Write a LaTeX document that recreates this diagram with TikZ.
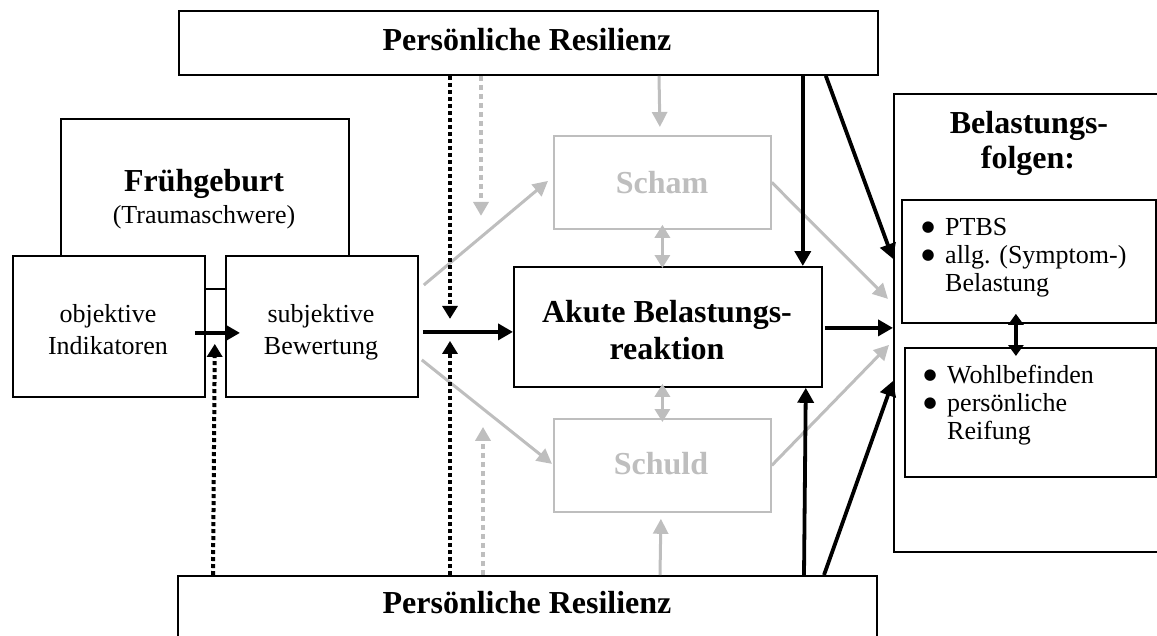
\documentclass[tikz,border=0pt]{standalone}
\usepackage{fontspec}
\setmainfont{Liberation Serif}
\newfontfamily\bulfont{DejaVu Sans}
\usetikzlibrary{arrows.meta,calc}
\definecolor{lg}{RGB}{190,190,190}
\newcommand{\bigbul}{\makebox[14pt][c]{\raisebox{4pt}[0pt][0pt]{\bulfont\fontsize{15}{15}\selectfont ●}}\hspace{10pt}}
\begin{document}
\begin{tikzpicture}[x=1pt,y=-1pt,
  box/.style={draw=black, line width=1.8pt, fill=white, inner sep=0pt, anchor=north west},
  gbox/.style={draw=lg, line width=1.8pt, fill=white, inner sep=0pt, anchor=north west},
  reg/.style={font=\fontsize{26}{32}\selectfont, inner sep=0pt, anchor=base},
  regw/.style={font=\fontsize{26}{32}\selectfont, inner sep=0pt, anchor=base west},
  bld/.style={font=\fontsize{32}{38}\selectfont\bfseries, inner sep=0pt, anchor=base},
  gbld/.style={bld, text=lg},
  blk/.style={line width=3.8pt, -{Triangle[length=15pt,width=16pt]}},
  blkdbl/.style={line width=3.8pt, {Triangle[length=11pt,width=15pt]}-{Triangle[length=11pt,width=15pt]}},
  gry/.style={draw=lg, line width=3pt, -{Triangle[length=15pt,width=15pt]}, lg},
  grydbl/.style={draw=lg, line width=3.5pt, {Triangle[length=13pt,width=15pt]}-{Triangle[length=13pt,width=15pt]}, lg},
  blkdot/.style={line width=4pt, dash pattern=on 4pt off 3pt, -{Triangle[length=13pt,width=15pt]}},
  grydot/.style={draw=lg, line width=3.5pt, dash pattern=on 5pt off 4pt, -{Triangle[length=14pt,width=15pt]}, lg}
]
\useasboundingbox (0,0) rectangle (1157,635);

% boxes
\node[box, minimum width=699pt, minimum height=64pt] (topR) at (178,10) {};
\node[box, minimum width=699pt, minimum height=85pt] (botR) at (177,575) {};
\node[box, minimum width=288pt, minimum height=170pt] (frueh) at (60,118) {};
\node[box, minimum width=192pt, minimum height=141pt] (obj) at (12,255) {};
\node[box, minimum width=192pt, minimum height=141pt] (subj) at (225,255) {};
\node[gbox, minimum width=217pt, minimum height=93pt] (scham) at (553,135) {};
\node[box, minimum width=308pt, minimum height=120pt] (akute) at (513,266) {};
\node[gbox, minimum width=217pt, minimum height=93pt] (schuld) at (553,418) {};
\node[box, minimum width=272pt, minimum height=458pt] (folgen) at (893,93) {};
\node[box, minimum width=254pt, minimum height=123pt] (f1) at (901,199) {};
\node[box, minimum width=251pt, minimum height=129pt] (f2) at (904,347) {};

% texts
\node[bld] (topT) at (527,50) {Persönliche Resilienz};
\node[bld] (botT) at (527,613) {Persönliche Resilienz};
\node[bld] (fr1) at (204,191) {Frühgeburt};
\node[reg] (fr2) at (204,223) {(Traumaschwere)};
\node[reg] (ob1) at (108,322) {objektive};
\node[reg] (ob2) at (108,354) {Indikatoren};
\node[reg] (su1) at (321,322) {subjektive};
\node[reg] (su2) at (321,354) {Bewertung};
\node[gbld] (schamT) at (662,193) {Scham};
\node[bld] (ak1) at (667,322) {Akute Belastungs-};
\node[bld] (ak2) at (667,359) {reaktion};
\node[gbld] (schuldT) at (661,474) {Schuld};
\node[bld] (fo1) at (1029,133) {Belastungs-};
\node[bld] (fo2) at (1028,168) {folgen:};
\node[regw] (t1) at (921,235) {\bigbul PTBS};
\node[regw] (t2) at (921,263) {\bigbul allg. (Symptom-)};
\node[regw] (t3) at (945,291) {Belastung};
\node[regw] (t4) at (923,383) {\bigbul Wohlbefinden};
\node[regw] (t5) at (923,411) {\bigbul persönliche};
\node[regw] (t6) at (947,439) {Reifung};

% gray connectors
\draw[gry] ($(subj.north east)+(5,30)$) -- ($(scham.west)+(-5,-1.5)$);
\draw[gry] ($(subj.east)+(3,33.5)$) -- ($(schuld.west)+(-1,-1.5)$);
\draw[gry] ($(topR.south west)+(481,0)$) -- ($(scham.north)+(-2.5,-8)$);
\draw[grydbl] ($(scham.south)+(0,-5)$) -- ($(scham.south |- akute.north)+(0,2)$);
\draw[grydbl] ($(schuld.north |- akute.south)+(0,-4)$) -- ($(schuld.north)+(0,4)$);
\draw[gry] ($(botR.north west)+(483,0)$) -- ($(schuld.south)+(-1.5,6)$);
\draw[gry] (scham.east) -- ($(folgen.west)+(-5,-24)$);
\draw[gry] (schuld.east) -- ($(folgen.west)+(-4,22)$);
\draw[grydot] ($(topR.south west)+(303,0)$) -- ($(scham.west)+(-72,33.5)$);
\draw[grydot] ($(botR.north west)+(306,0)$) -- ($(schuld.west)+(-70,-38.5)$);

% black connectors
\draw[blk] ($(obj.east)+(-11,6.5)$) -- ($(subj.west)+(15,6.5)$);
\draw[blk] ($(subj.east)+(4,5.5)$) -- ($(akute.west)+(0,5)$);
\draw[blk] ($(topR.south east)+(-76,0)$) -- ($(akute.north east)+(-20,0)$);
\draw[blk] ($(botR.north west)+(627,0)$) -- ($(akute.south east)+(-17,0)$);
\draw[blk] ($(topR.south east)+(-53,0)$) -- ($(folgen.west)+(0,-64)$);
\draw[blk] ($(akute.east)+(2,1)$) -- ($(folgen.west)+(0,5)$);
\draw[blk] ($(botR.north west)+(647,0)$) -- ($(folgen.west)+(0,58)$);
\draw[blkdbl] ($(f1.south)+(-13,-10)$) -- ($(f2.north)+(-14.5,9)$);
\draw[blkdot] ($(botR.north west)+(36,0)$) -- ($(obj.east)+(9,17.5)$);
\draw[blkdot] ($(topR.south west)+(272,0)$) -- ($(akute.west)+(-63,-8)$);
\draw[blkdot] ($(botR.north west)+(273,0)$) -- ($(akute.west)+(-63,14)$);
\end{tikzpicture}
\end{document}
